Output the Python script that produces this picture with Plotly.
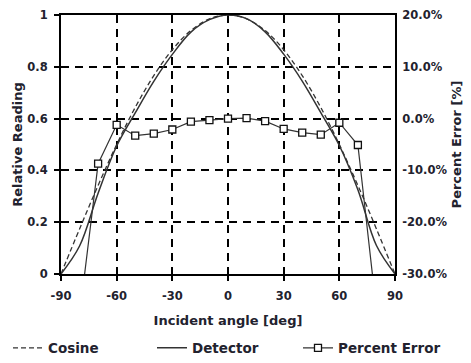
import plotly.graph_objects as go

angles = [-90, -80, -70, -60, -50, -40, -30, -20, -10, 0, 10, 20, 30, 40, 50, 60, 70, 80, 90]
cosine = [0.0, 0.174, 0.342, 0.5, 0.643, 0.766, 0.866, 0.94, 0.985, 1.0,
          0.985, 0.94, 0.866, 0.766, 0.643, 0.5, 0.342, 0.174, 0.0]
detector = [0.0, 0.108, 0.312, 0.494, 0.622, 0.744, 0.848, 0.934, 0.982, 1.0,
            0.986, 0.935, 0.849, 0.745, 0.623, 0.496, 0.325, 0.11, 0.0]
err_angles = [-80, -70, -60, -50, -40, -30, -20, -10, 0, 10, 20, 30, 40, 50, 60, 70, 80]
percent_error = [-38.0, -8.7, -1.2, -3.3, -2.9, -2.1, -0.6, -0.3, 0.0, 0.1,
                 -0.5, -2.0, -2.7, -3.1, -0.8, -5.1, -37.0]

x_ticks = [-90, -60, -30, 0, 30, 60, 90]
x_labels = ["-90", "-60", "-30", "0", "30", "60", "90"]
y_ticks = [0, 0.2, 0.4, 0.6, 0.8, 1]
y_labels = ["0", "0.2", "0.4", "0.6", "0.8", "1"]
y2_ticks = [-30, -20, -10, 0, 10, 20]
y2_labels = ["-30.0%", "-20.0%", "-10.0%", "0.0%", "10.0%", "20.0%"]

FONT = "DejaVu Sans"
TXT = "#22222e"
W, H = 463, 355  # page body has an 8px default margin

fig = go.Figure()
fig.add_trace(go.Scatter(x=angles, y=cosine, name="Cosine", mode="lines", legend="legend",
                         showlegend=True,
                         line=dict(color="#333333", width=1.3, dash="5px,3px", shape="spline")))
fig.add_trace(go.Scatter(x=angles, y=detector, name="Detector", mode="lines", legend="legend2",
                         showlegend=True,
                         line=dict(color="#333333", width=1.5, shape="spline")))
fig.add_trace(go.Scatter(x=err_angles, y=percent_error, name="Percent Error", mode="lines+markers",
                         yaxis="y2", legend="legend3", showlegend=True,
                         line=dict(color="#333333", width=1.2),
                         marker=dict(symbol="square", size=7, color="white",
                                     line=dict(color="#111111", width=1.3))))

tickfont = dict(family=FONT, size=11.5, color=TXT, weight="bold")
titlefont = dict(family=FONT, size=13, color=TXT, weight="bold")
legfont = dict(family=FONT, size=13.5, color=TXT, weight="bold")


def leg(xpx):
    return dict(orientation="h", xref="container", yref="container",
                x=xpx / W, xanchor="left", y=15 / H, yanchor="middle",
                font=legfont, bgcolor="rgba(0,0,0,0)", visible=True)


fig.update_layout(
    width=W, height=H,
    showlegend=True,
    margin=dict(l=53, r=76, t=7, b=89, autoexpand=False),
    paper_bgcolor="white", plot_bgcolor="white",
    font=dict(family=FONT, color=TXT),
    xaxis=dict(range=[-90, 90], tickvals=x_ticks, ticktext=x_labels,
               ticks="outside", ticklen=5, tickwidth=1.5, tickcolor="black",
               ticklabelstandoff=5, automargin=False, ticklabeloverflow="allow",
               showline=True, linecolor="black", linewidth=2, mirror=True, zeroline=False,
               showgrid=True, gridcolor="black", gridwidth=1.5, griddash="8px,6px",
               tickfont=tickfont,
               title=dict(text="Incident angle [deg]", standoff=14, font=titlefont)),
    yaxis=dict(range=[0, 1], tickvals=y_ticks, ticktext=y_labels,
               ticks="outside", ticklen=5, tickwidth=1.5, tickcolor="black",
               ticklabelstandoff=4, automargin=False, ticklabeloverflow="allow",
               showline=True, linecolor="black", linewidth=2, mirror=True, zeroline=False,
               showgrid=True, gridcolor="black", gridwidth=1.5, griddash="8px,6px",
               tickfont=tickfont,
               title=dict(text="Relative Reading", standoff=2, font=titlefont)),
    yaxis2=dict(range=[-30, 20], tickvals=y2_ticks, ticktext=y2_labels,
                overlaying="y", side="right", showgrid=False, ticks="",
                ticklabelstandoff=3, automargin=False, ticklabeloverflow="allow",
                showline=True, linecolor="black", linewidth=2, zeroline=False,
                tickfont=tickfont,
                title=dict(text="Percent Error [%]", standoff=5, font=titlefont)),
    legend=leg(-5),
    legend2=leg(144),
    legend3=leg(290),
)

fig.write_html("out.html")
